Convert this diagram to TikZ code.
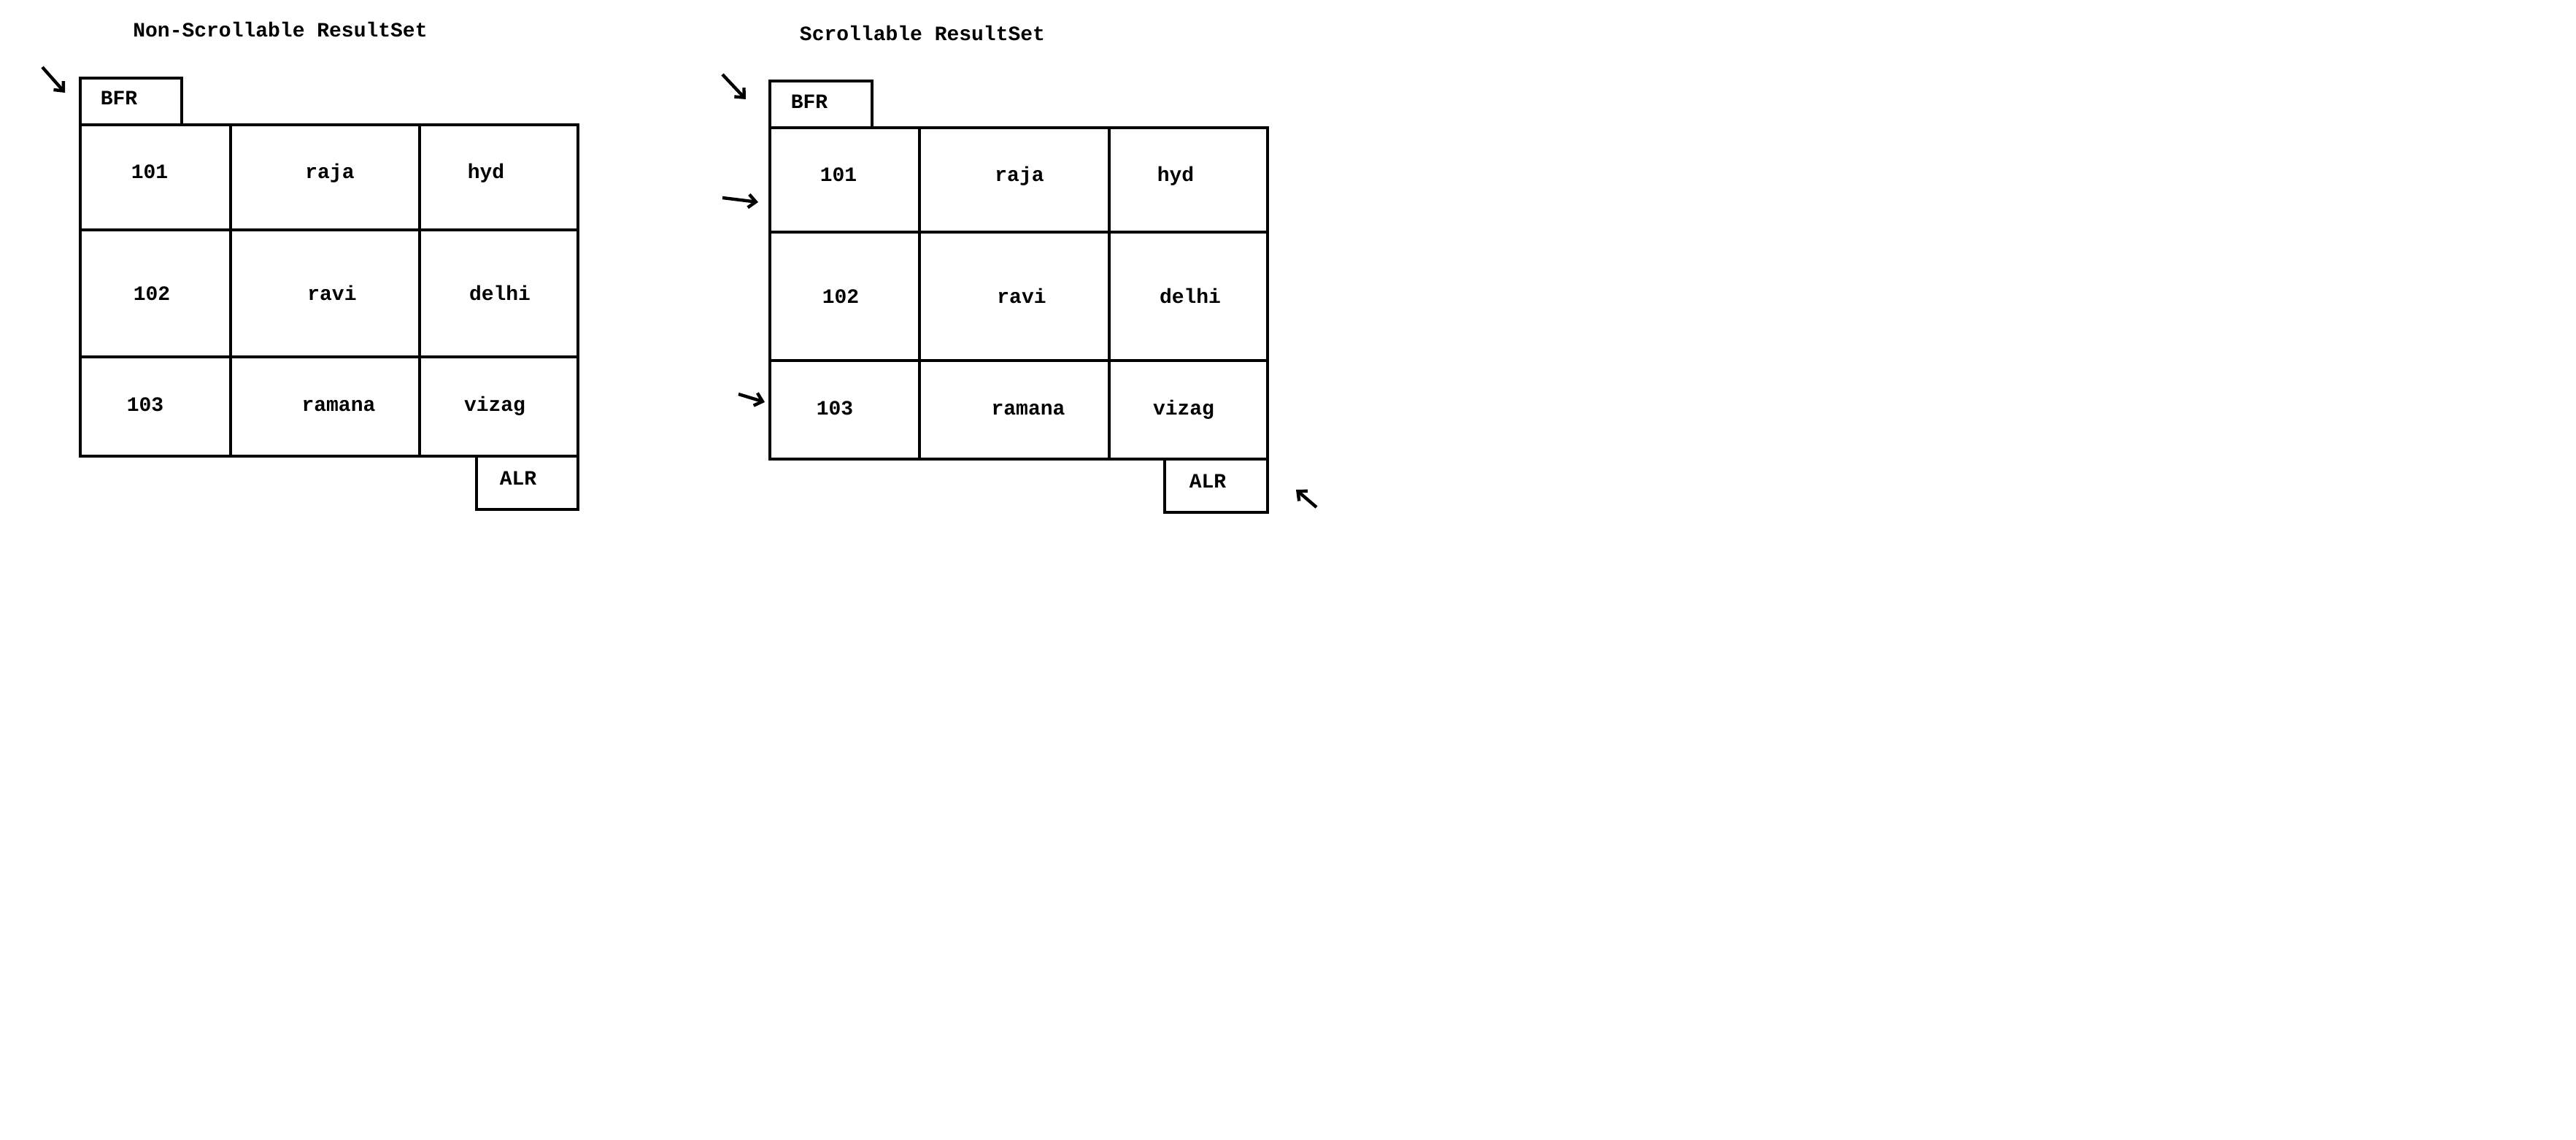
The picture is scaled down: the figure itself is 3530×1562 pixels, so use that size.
\documentclass[tikz,border=0pt]{standalone}
\usepackage{fontspec}
\setmainfont{Liberation Mono}
\usetikzlibrary{positioning,arrows.meta}

\begin{document}
\begin{tikzpicture}[x=0.5pt, y=-0.5pt, line width=2.2pt, >={Straight Barb[length=5pt,width=9pt]},
  cell/.style={draw, inner sep=0pt, outer sep=0pt},
  txt/.style={font=\bfseries\fontsize{14}{16}\selectfont, inner sep=0pt, anchor=mid}]

  \useasboundingbox (0,0) rectangle (3530,1562);

  % non-scrollable
  \node[txt] (titleL) at (384,45) {Non-Scrollable ResultSet};

  \node[cell, anchor=north west, minimum width=103pt, minimum height=72pt] (l11) at (110,171) {};
  \node[cell, minimum width=129.5pt, minimum height=72pt] (l12) [right=0pt of l11] {};
  \node[cell, minimum width=108.5pt, minimum height=72pt] (l13) [right=0pt of l12] {};
  \node[cell, minimum width=103pt, minimum height=87pt] (l21) [below=0pt of l11] {};
  \node[cell, minimum width=129.5pt, minimum height=87pt] (l22) [right=0pt of l21] {};
  \node[cell, minimum width=108.5pt, minimum height=87pt] (l23) [right=0pt of l22] {};
  \node[cell, minimum width=103pt, minimum height=68pt] (l31) [below=0pt of l21] {};
  \node[cell, minimum width=129.5pt, minimum height=68pt] (l32) [right=0pt of l31] {};
  \node[cell, minimum width=108.5pt, minimum height=68pt] (l33) [right=0pt of l32] {};

  \node[cell, minimum width=69.5pt, minimum height=32pt] (bfrL) [above right=0pt and 0pt of l11.north west] {};
  \node[cell, minimum width=69.5pt, minimum height=36.5pt] (alrL) [below left=0pt and 0pt of l33.south east] {};

  \node[txt] (tbfrL) at (163,138) {BFR};
  \node[txt] (tl11) at (205,239) {101};
  \node[txt] (tl12) at (452,239) {raja};
  \node[txt] (tl13) at (666,239) {hyd};
  \node[txt] (tl21) at (208,406) {102};
  \node[txt] (tl22) at (455,406) {ravi};
  \node[txt] (tl23) at (685,406) {delhi};
  \node[txt] (tl31) at (199,558) {103};
  \node[txt] (tl32) at (464,558) {ramana};
  \node[txt] (tl33) at (678,558) {vizag};
  \node[txt] (talrL) at (710,659) {ALR};

  \coordinate (pL0) at (58,92);
  \coordinate (pL1) at (89,127);
  \draw[->] (pL0) -- (pL1);

  % scrollable
  \node[txt] (titleR) at (1264,50) {Scrollable ResultSet};

  \node[cell, anchor=north west, minimum width=102.5pt, minimum height=71.5pt] (r11) at (1055,175) {};
  \node[cell, minimum width=130pt, minimum height=71.5pt] (r12) [right=0pt of r11] {};
  \node[cell, minimum width=108.5pt, minimum height=71.5pt] (r13) [right=0pt of r12] {};
  \node[cell, minimum width=102.5pt, minimum height=88pt] (r21) [below=0pt of r11] {};
  \node[cell, minimum width=130pt, minimum height=88pt] (r22) [right=0pt of r21] {};
  \node[cell, minimum width=108.5pt, minimum height=88pt] (r23) [right=0pt of r22] {};
  \node[cell, minimum width=102.5pt, minimum height=67.5pt] (r31) [below=0pt of r21] {};
  \node[cell, minimum width=130pt, minimum height=67.5pt] (r32) [right=0pt of r31] {};
  \node[cell, minimum width=108.5pt, minimum height=67.5pt] (r33) [right=0pt of r32] {};

  \node[cell, minimum width=70pt, minimum height=32pt] (bfrR) [above right=0pt and 0pt of r11.north west] {};
  \node[cell, minimum width=70.5pt, minimum height=36.5pt] (alrR) [below left=0pt and 0pt of r33.south east] {};

  \node[txt] (tbfrR) at (1109,143) {BFR};
  \node[txt] (tr11) at (1149,243) {101};
  \node[txt] (tr12) at (1397,243) {raja};
  \node[txt] (tr13) at (1611,243) {hyd};
  \node[txt] (tr21) at (1152,410) {102};
  \node[txt] (tr22) at (1400,410) {ravi};
  \node[txt] (tr23) at (1631,410) {delhi};
  \node[txt] (tr31) at (1144,563) {103};
  \node[txt] (tr32) at (1409,563) {ramana};
  \node[txt] (tr33) at (1622,563) {vizag};
  \node[txt] (talrR) at (1655,663) {ALR};

  \coordinate (pR0) at (990,102);
  \coordinate (pR1) at (1022,136);
  \draw[->] (pR0) -- (pR1);
  \coordinate (pR2) at (990,271);
  \coordinate (pR3) at (1039,277);
  \draw[->] (pR2) -- (pR3);
  \coordinate (pR4) at (1012,540);
  \coordinate (pR5) at (1048,551);
  \draw[->] (pR4) -- (pR5);
  \coordinate (pR6) at (1804,695);
  \coordinate (pR7) at (1776,671);
  \draw[->] (pR6) -- (pR7);
\end{tikzpicture}
\end{document}
